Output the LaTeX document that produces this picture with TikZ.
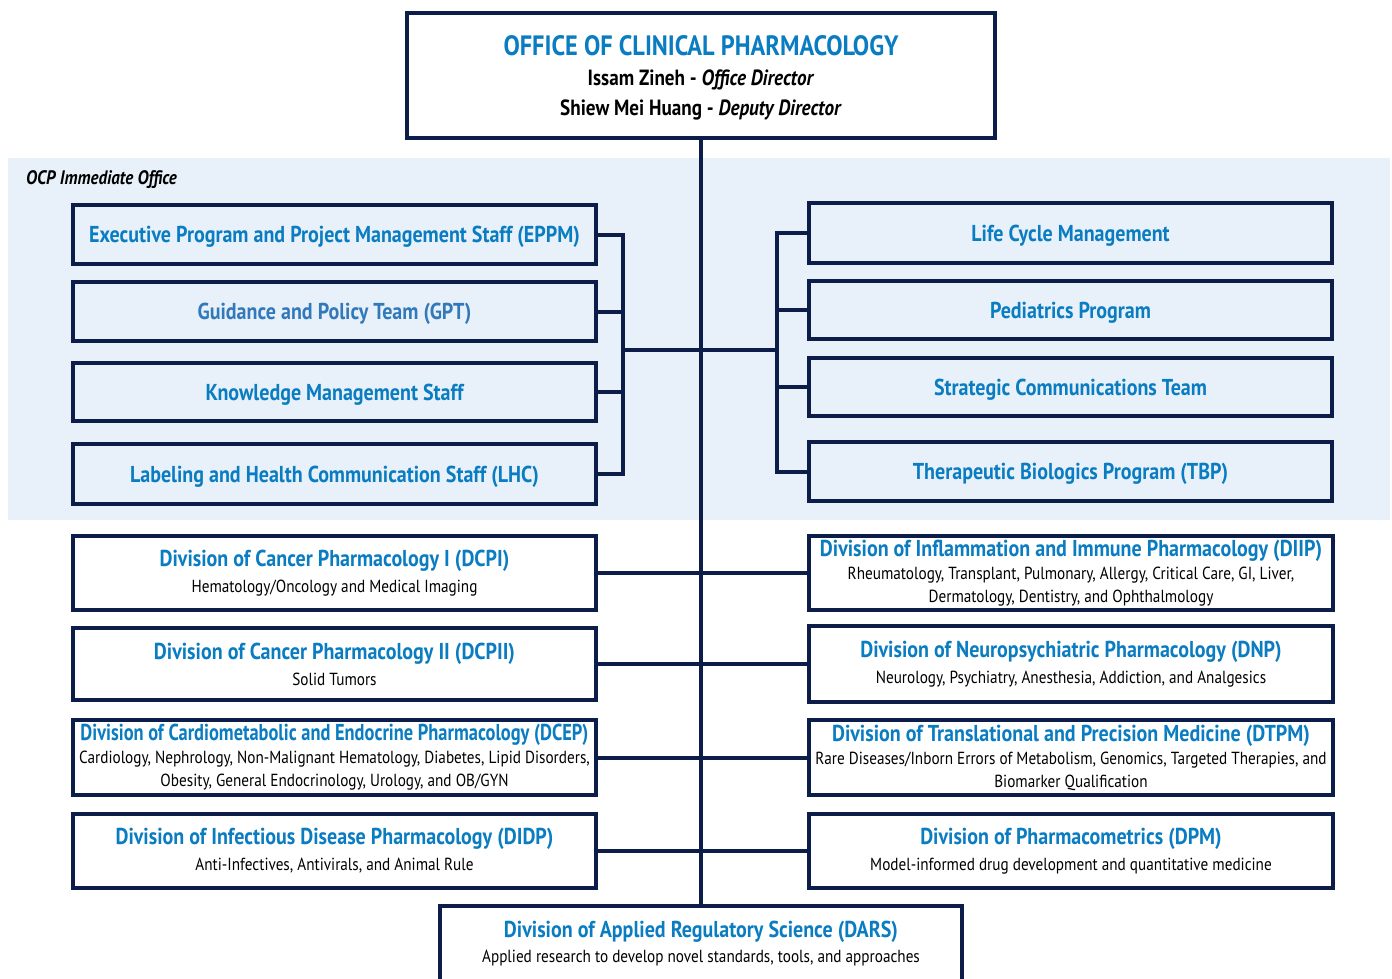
\documentclass[tikz,border=0pt]{standalone}
\usepackage{fontspec}
\setmainfont{PT Sans}[FakeStretch=0.87]
\newfontfamily\narrowfont{PT Sans}[FakeStretch=0.80]
\definecolor{navy}{HTML}{0B1D48}
\definecolor{tblue}{HTML}{0A7CC1}
\definecolor{gblue}{HTML}{3179BA}
\definecolor{band}{HTML}{E8F1F9}
\newcommand\ttlfont{\fontsize{23}{25}\selectfont\bfseries}
\newcommand\subfont{\fontsize{17.5}{22}\selectfont\mdseries}
\begin{document}
\begin{tikzpicture}[x=1pt,y=-1pt,
  box/.style={draw=navy, line width=4pt, align=center, inner sep=0pt, text=tblue, font=\ttlfont},
  ibox/.style={box, minimum width=523, text depth=0pt},
  wbox/.style={box, fill=white},
  txt/.style={anchor=base, inner sep=0pt},
  wire/.style={draw=navy, line width=4pt}]
\useasboundingbox (0,0) rectangle (1392,978);
\fill[band] (8,158) rectangle (1390,520);
\node[anchor=base west, inner sep=0pt, font=\fontsize{19.5}{20}\selectfont\bfseries\itshape] (ocp) at (26,184) {OCP Immediate Office};

% top
\node[wbox, minimum width=588, minimum height=125] (top) at (701,75.5) {};
\node[txt, text=tblue, font=\fontsize{28}{30}\selectfont\bfseries] (toptitle) at (701,55) {OFFICE OF CLINICAL PHARMACOLOGY};
\node[txt, font=\fontsize{22}{30}\selectfont\bfseries] (dir) at (701,85) {Issam Zineh - \textit{Office Director}};
\node[txt, font=\fontsize{22}{30}\selectfont\bfseries] (ddir) at (701,115) {Shiew Mei Huang - \textit{Deputy Director}};

% immediate office left
\node[ibox, minimum height=59] (eppm) at (334.5,234.5) {Executive Program and Project Management Staff (EPPM)};
\node[ibox, minimum height=59, text=gblue] (gpt) at (334.5,311.5) {Guidance and Policy Team (GPT)};
\node[ibox, minimum height=58] (kms) at (334.5,392) {Knowledge Management Staff};
\node[ibox, minimum height=60] (lhc) at (334.5,474) {Labeling and Health Communication Staff (LHC)};
% immediate office right
\node[ibox, minimum height=60] (lcm) at (1070.5,233) {Life Cycle Management};
\node[ibox, minimum height=58] (ped) at (1070.5,310) {Pediatrics Program};
\node[ibox, minimum height=58] (sct) at (1070.5,387) {Strategic Communications Team};
\node[ibox, minimum height=59] (tbp) at (1070.5,471.5) {Therapeutic Biologics Program (TBP)};

% divisions left
\node[wbox, minimum width=523, minimum height=74] (dcpi) at (334.5,573)
  {Division of Cancer Pharmacology I (DCPI)\\[1pt]{\color{black}\subfont Hematology/Oncology and Medical Imaging}};
\node[wbox, minimum width=523, minimum height=72] (dcpii) at (334.5,664)
  {Division of Cancer Pharmacology II (DCPII)\\[1pt]{\color{black}\subfont Solid Tumors}};
\node[wbox, minimum width=523, minimum height=75] (dcep) at (334.5,757.5)
  {{\narrowfont Division of Cardiometabolic and Endocrine Pharmacology (DCEP)}\\[-2pt]{\color{black}\subfont Cardiology, Nephrology, Non-Malignant Hematology, Diabetes, Lipid Disorders,}\\[-2pt]{\color{black}\subfont Obesity, General Endocrinology, Urology, and OB/GYN}};
\node[wbox, minimum width=523, minimum height=74] (didp) at (334.5,851)
  {Division of Infectious Disease Pharmacology (DIDP)\\[1pt]{\color{black}\subfont Anti-Infectives, Antivirals, and Animal Rule}};
% divisions right
\node[wbox, minimum width=524, minimum height=74] (diip) at (1071,573)
  {Division of Inflammation and Immune Pharmacology (DIIP)\\[-2pt]{\color{black}\subfont Rheumatology, Transplant, Pulmonary, Allergy, Critical Care, GI, Liver,}\\[-2pt]{\color{black}\subfont Dermatology, Dentistry, and Ophthalmology}};
\node[wbox, minimum width=524, minimum height=76] (dnp) at (1071,664)
  {Division of Neuropsychiatric Pharmacology (DNP)\\[1pt]{\color{black}\subfont Neurology, Psychiatry, Anesthesia, Addiction, and Analgesics}};
\node[wbox, minimum width=524, minimum height=75] (dtpm) at (1071,757.5)
  {Division of Translational and Precision Medicine (DTPM)\\[-2pt]{\color{black}\subfont Rare Diseases/Inborn Errors of Metabolism, Genomics, Targeted Therapies, and}\\[-2pt]{\color{black}\subfont Biomarker Qualification}};
\node[wbox, minimum width=524, minimum height=74] (dpm) at (1071,851)
  {Division of Pharmacometrics (DPM)\\[1pt]{\color{black}\subfont Model-informed drug development and quantitative medicine}};
% DARS
\node[wbox, minimum width=522, minimum height=120, anchor=north] (dars) at (701,904) {};
\node[txt, text=tblue, font=\ttlfont] (darst) at (701,937) {Division of Applied Regulatory Science (DARS)};
\node[txt, font=\subfont] (darss) at (701,962) {Applied research to develop novel standards, tools, and approaches};

% connectors
\coordinate (lbx) at (623,350);
\coordinate (rbx) at (777,350);
\draw[wire] (top.south) -- (dars.north);
\draw[wire] (eppm.east) -| (lbx |- lhc.east) -- (lhc.east);
\draw[wire] (gpt.east) -- (gpt.east -| lbx);
\draw[wire] (kms.east) -- (kms.east -| lbx);
\draw[wire] (lcm.west) -| (rbx |- tbp.west) -- (tbp.west);
\draw[wire] (ped.west) -- (ped.west -| rbx);
\draw[wire] (sct.west) -- (sct.west -| rbx);
\draw[wire] (lbx) -- (rbx);
\draw[wire] (dcpi.east) -- (diip.west);
\draw[wire] (dcpii.east) -- (dnp.west);
\draw[wire] (dcep.east) -- (dtpm.west);
\draw[wire] (didp.east) -- (dpm.west);
\end{tikzpicture}
\end{document}
